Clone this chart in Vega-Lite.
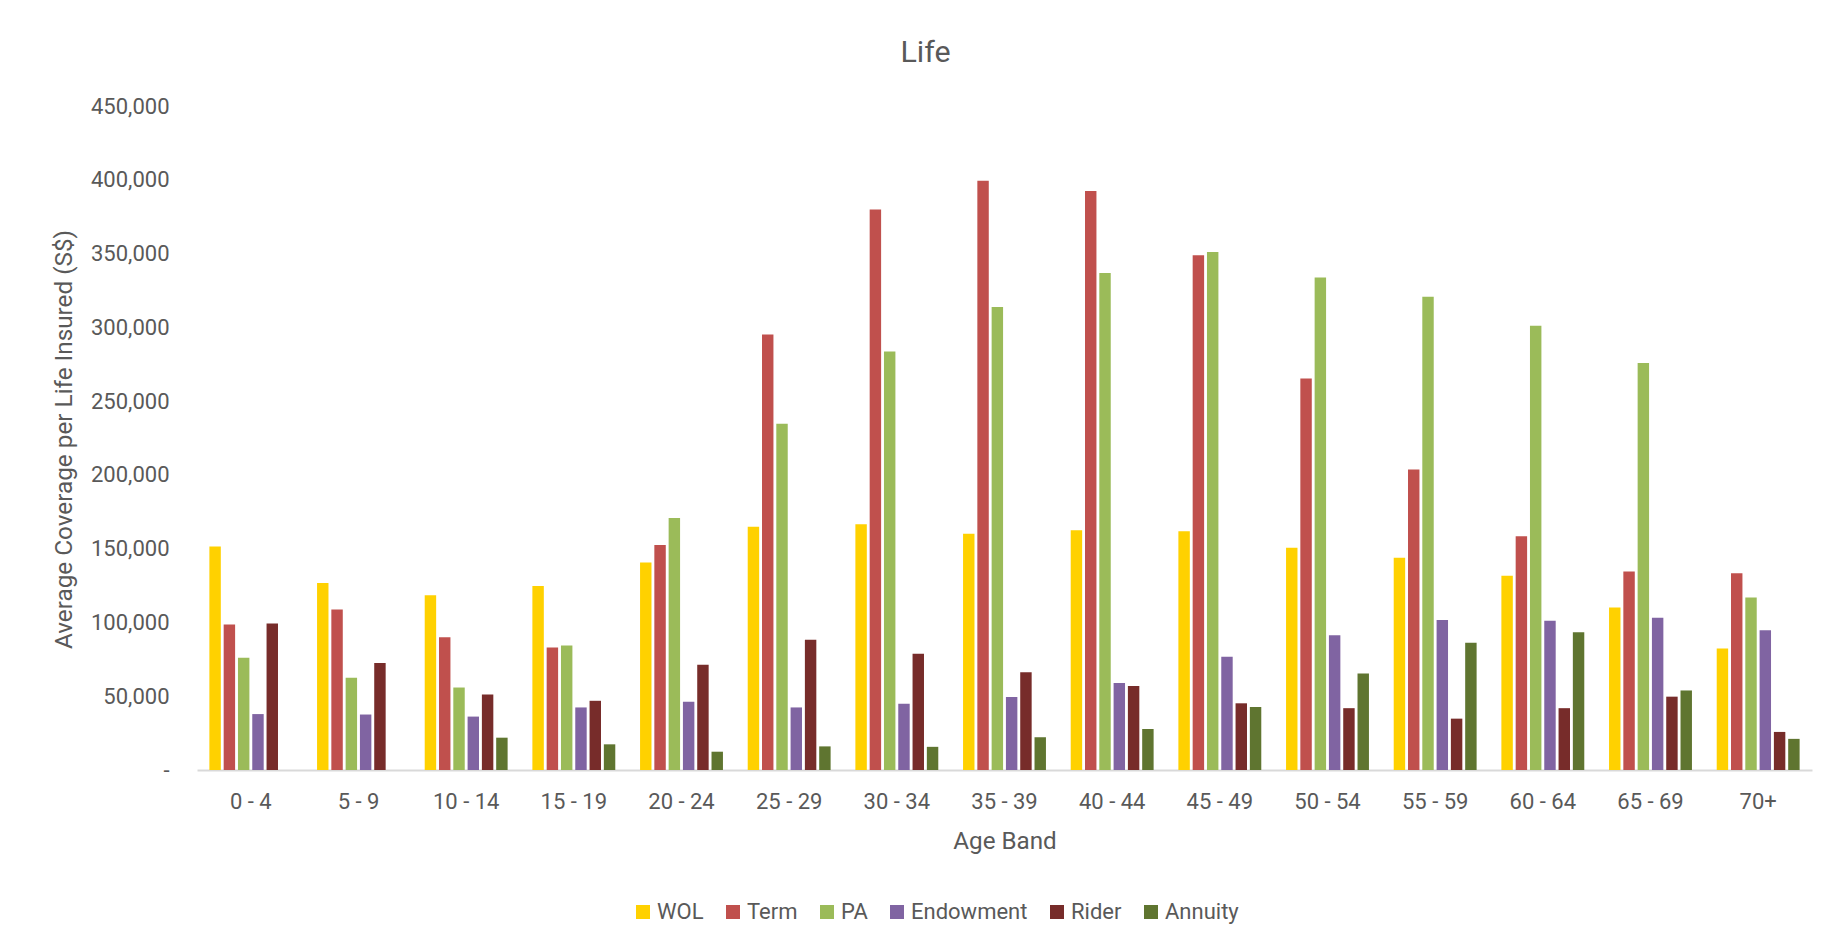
{
  "$schema": "https://vega.github.io/schema/vega-lite/v6.json",
  "width": 1615,
  "height": 664,
  "autosize": {"type": "none"},
  "padding": {"left": 197, "top": 106, "right": 24, "bottom": 177},
  "background": "white",
  "title": {
    "text": "Life",
    "font": "Roboto",
    "fontSize": 30.4,
    "fontWeight": "normal",
    "color": "#595959",
    "anchor": "middle",
    "frame": "group",
    "dx": -79,
    "baseline": "alphabetic",
    "offset": 3
  },
  "data": {
    "values": [
      {"age": "0 - 4", "type": "WOL", "value": 151400},
      {"age": "0 - 4", "type": "Term", "value": 98600},
      {"age": "0 - 4", "type": "PA", "value": 76100},
      {"age": "0 - 4", "type": "Endowment", "value": 37900},
      {"age": "0 - 4", "type": "Rider", "value": 99200},
      {"age": "5 - 9", "type": "WOL", "value": 126700},
      {"age": "5 - 9", "type": "Term", "value": 108700},
      {"age": "5 - 9", "type": "PA", "value": 62600},
      {"age": "5 - 9", "type": "Endowment", "value": 37600},
      {"age": "5 - 9", "type": "Rider", "value": 72500},
      {"age": "10 - 14", "type": "WOL", "value": 118500},
      {"age": "10 - 14", "type": "Term", "value": 89900},
      {"age": "10 - 14", "type": "PA", "value": 55900},
      {"age": "10 - 14", "type": "Endowment", "value": 36200},
      {"age": "10 - 14", "type": "Rider", "value": 51100},
      {"age": "10 - 14", "type": "Annuity", "value": 21900},
      {"age": "15 - 19", "type": "WOL", "value": 124700},
      {"age": "15 - 19", "type": "Term", "value": 83100},
      {"age": "15 - 19", "type": "PA", "value": 84300},
      {"age": "15 - 19", "type": "Endowment", "value": 42400},
      {"age": "15 - 19", "type": "Rider", "value": 46900},
      {"age": "15 - 19", "type": "Annuity", "value": 17400},
      {"age": "20 - 24", "type": "WOL", "value": 140700},
      {"age": "20 - 24", "type": "Term", "value": 152500},
      {"age": "20 - 24", "type": "PA", "value": 170800},
      {"age": "20 - 24", "type": "Endowment", "value": 46300},
      {"age": "20 - 24", "type": "Rider", "value": 71300},
      {"age": "20 - 24", "type": "Annuity", "value": 12400},
      {"age": "25 - 29", "type": "WOL", "value": 164900},
      {"age": "25 - 29", "type": "Term", "value": 295200},
      {"age": "25 - 29", "type": "PA", "value": 234600},
      {"age": "25 - 29", "type": "Endowment", "value": 42400},
      {"age": "25 - 29", "type": "Rider", "value": 88200},
      {"age": "25 - 29", "type": "Annuity", "value": 16000},
      {"age": "30 - 34", "type": "WOL", "value": 166600},
      {"age": "30 - 34", "type": "Term", "value": 379800},
      {"age": "30 - 34", "type": "PA", "value": 283700},
      {"age": "30 - 34", "type": "Endowment", "value": 44900},
      {"age": "30 - 34", "type": "Rider", "value": 78700},
      {"age": "30 - 34", "type": "Annuity", "value": 15700},
      {"age": "35 - 39", "type": "WOL", "value": 160100},
      {"age": "35 - 39", "type": "Term", "value": 399400},
      {"age": "35 - 39", "type": "PA", "value": 313800},
      {"age": "35 - 39", "type": "Endowment", "value": 49400},
      {"age": "35 - 39", "type": "Rider", "value": 66300},
      {"age": "35 - 39", "type": "Annuity", "value": 22200},
      {"age": "40 - 44", "type": "WOL", "value": 162400},
      {"age": "40 - 44", "type": "Term", "value": 392400},
      {"age": "40 - 44", "type": "PA", "value": 336800},
      {"age": "40 - 44", "type": "Endowment", "value": 59000},
      {"age": "40 - 44", "type": "Rider", "value": 57000},
      {"age": "40 - 44", "type": "Annuity", "value": 27800},
      {"age": "45 - 49", "type": "WOL", "value": 161800},
      {"age": "45 - 49", "type": "Term", "value": 348900},
      {"age": "45 - 49", "type": "PA", "value": 351100},
      {"age": "45 - 49", "type": "Endowment", "value": 76700},
      {"age": "45 - 49", "type": "Rider", "value": 45200},
      {"age": "45 - 49", "type": "Annuity", "value": 42700},
      {"age": "50 - 54", "type": "WOL", "value": 150600},
      {"age": "50 - 54", "type": "Term", "value": 265400},
      {"age": "50 - 54", "type": "PA", "value": 333700},
      {"age": "50 - 54", "type": "Endowment", "value": 91300},
      {"age": "50 - 54", "type": "Rider", "value": 41900},
      {"age": "50 - 54", "type": "Annuity", "value": 65400},
      {"age": "55 - 59", "type": "WOL", "value": 143800},
      {"age": "55 - 59", "type": "Term", "value": 203700},
      {"age": "55 - 59", "type": "PA", "value": 320800},
      {"age": "55 - 59", "type": "Endowment", "value": 101700},
      {"age": "55 - 59", "type": "Rider", "value": 34800},
      {"age": "55 - 59", "type": "Annuity", "value": 86200},
      {"age": "60 - 64", "type": "WOL", "value": 131700},
      {"age": "60 - 64", "type": "Term", "value": 158400},
      {"age": "60 - 64", "type": "PA", "value": 301100},
      {"age": "60 - 64", "type": "Endowment", "value": 101100},
      {"age": "60 - 64", "type": "Rider", "value": 41900},
      {"age": "60 - 64", "type": "Annuity", "value": 93300},
      {"age": "65 - 69", "type": "WOL", "value": 110100},
      {"age": "65 - 69", "type": "Term", "value": 134600},
      {"age": "65 - 69", "type": "PA", "value": 275800},
      {"age": "65 - 69", "type": "Endowment", "value": 103100},
      {"age": "65 - 69", "type": "Rider", "value": 49700},
      {"age": "65 - 69", "type": "Annuity", "value": 53900},
      {"age": "70+", "type": "WOL", "value": 82300},
      {"age": "70+", "type": "Term", "value": 133400},
      {"age": "70+", "type": "PA", "value": 116900},
      {"age": "70+", "type": "Endowment", "value": 94700},
      {"age": "70+", "type": "Rider", "value": 25800},
      {"age": "70+", "type": "Annuity", "value": 21100}
    ]
  },
  "mark": {"type": "bar"},
  "encoding": {
    "x": {
      "field": "age",
      "type": "nominal",
      "sort": ["0 - 4", "5 - 9", "10 - 14", "15 - 19", "20 - 24", "25 - 29", "30 - 34", "35 - 39", "40 - 44", "45 - 49", "50 - 54", "55 - 59", "60 - 64", "65 - 69", "70+"],
      "scale": {"paddingInner": 0.23, "paddingOuter": 0.115},
      "axis": {
        "title": "Age Band",
        "titleFont": "Roboto",
        "titleFontSize": 24.2,
        "titleFontWeight": "normal",
        "titleColor": "#595959",
        "titleBaseline": "alphabetic",
        "titleY": 78,
        "labelAngle": 0,
        "labelFont": "Roboto",
        "labelFontSize": 22,
        "labelColor": "#595959",
        "labelBaseline": "alphabetic",
        "labelPadding": 38.6,
        "ticks": false,
        "tickSize": 0,
        "domainColor": "#d9d9d9",
        "domainWidth": 2,
        "grid": false
      }
    },
    "xOffset": {
      "field": "type",
      "type": "nominal",
      "sort": ["WOL", "Term", "PA", "Endowment", "Rider", "Annuity"],
      "scale": {"paddingInner": 0.2, "paddingOuter": 0}
    },
    "y": {
      "field": "value",
      "type": "quantitative",
      "scale": {"domain": [0, 450000], "nice": false},
      "axis": {
        "title": "Average Coverage per Life Insured (S$)",
        "titleFont": "Roboto",
        "titleFontSize": 24.3,
        "titleFontWeight": "normal",
        "titleColor": "#595959",
        "titleBaseline": "alphabetic",
        "titleAngle": 270,
        "titleAlign": "center",
        "titleX": -126,
        "titleY": 333,
        "values": [0, 50000, 100000, 150000, 200000, 250000, 300000, 350000, 400000, 450000],
        "labelExpr": "datum.value == 0 ? '-\u00a0\u00a0' : format(datum.value, ',')",
        "labelFont": "Roboto",
        "labelFontSize": 22,
        "labelColor": "#595959",
        "labelPadding": 28,
        "ticks": false,
        "tickSize": 0,
        "domain": false,
        "grid": false
      }
    },
    "color": {
      "field": "type",
      "type": "nominal",
      "sort": ["WOL", "Term", "PA", "Endowment", "Rider", "Annuity"],
      "scale": {
        "domain": ["WOL", "Term", "PA", "Endowment", "Rider", "Annuity"],
        "range": ["#FFD100", "#C0504D", "#9BBB59", "#8064A2", "#772C2A", "#5F7530"]
      },
      "legend": {
        "title": null,
        "orient": "none",
        "direction": "horizontal",
        "legendX": 435,
        "legendY": 795,
        "symbolType": "square",
        "symbolSize": 196,
        "symbolStrokeWidth": 0,
        "symbolOpacity": 1,
        "labelFont": "Roboto",
        "labelFontSize": 22,
        "labelColor": "#595959",
        "labelOffset": 3,
        "columnPadding": 18,
        "labelLimit": 300
      }
    }
  },
  "config": {
    "view": {"stroke": null}
  }
}
